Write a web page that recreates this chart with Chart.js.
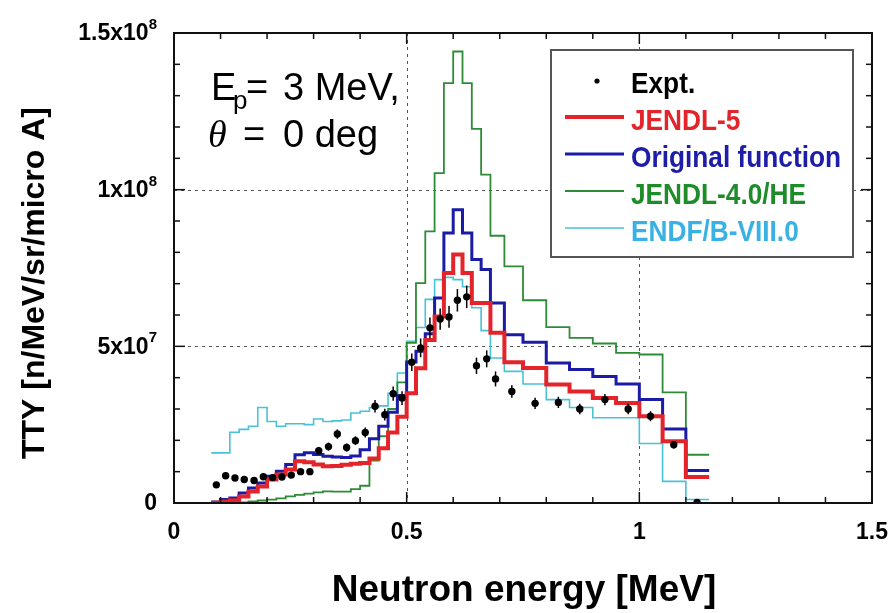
<!DOCTYPE html>
<html>
<head>
<meta charset="utf-8">
<title>TTY, Ep = 3 MeV, 0 deg</title>
<script src="https://cdn.jsdelivr.net/npm/chart.js@4.4.1/dist/chart.umd.min.js"></script>
<style>
  html, body { margin: 0; padding: 0; background: #fff; }
</style>
</head>
<body>
<canvas id="tty" width="888" height="613"></canvas>
<script>
const FONT = '"Liberation Sans", Arial, Helvetica, sans-serif';

// histogram bin edges [MeV], shared by the four calculations
const binEdges = [0.08, 0.10, 0.12, 0.14, 0.16, 0.18, 0.20, 0.22, 0.24, 0.26,
  0.28, 0.30, 0.32, 0.34, 0.36, 0.38, 0.40, 0.42, 0.44, 0.46,
  0.48, 0.50, 0.52, 0.54, 0.56, 0.58, 0.60, 0.62, 0.64, 0.66,
  0.68, 0.71, 0.75, 0.80, 0.85, 0.90, 0.95, 1.00, 1.05, 1.10, 1.15];

// TTY per bin [n/MeV/sr/micro A]
const jendl5 = [1e5, 4e5, 9e5, 2.1e6, 3.7e6, 5.3e6, 7.5e6, 9.1e6, 1.07e7, 1.33e7,
  1.30e7, 1.23e7, 1.17e7, 1.18e7, 1.22e7, 1.25e7, 1.28e7, 1.42e7, 1.75e7, 2.25e7,
  2.75e7, 3.5e7, 4.3e7, 5.2e7, 5.95e7, 7.34e7, 7.93e7, 7.34e7, 6.38e7, 6.38e7,
  5.43e7, 4.49e7, 4.31e7, 3.78e7, 3.56e7, 3.35e7, 3.19e7, 2.77e7, 1.97e7, 8.3e6];
const originalFn = [3e5, 1.1e6, 1.6e6, 3.2e6, 4.8e6, 6.4e6, 8.5e6, 1.01e7, 1.23e7, 1.54e7,
  1.60e7, 1.55e7, 1.49e7, 1.47e7, 1.45e7, 1.50e7, 1.70e7, 2.05e7, 2.45e7, 2.90e7,
  3.43e7, 4.5e7, 4.84e7, 5.4e7, 6.54e7, 8.62e7, 9.36e7, 8.62e7, 7.77e7, 7.45e7,
  6.38e7, 5.37e7, 5.13e7, 4.47e7, 4.26e7, 4.04e7, 3.8e7, 3.3e7, 2.36e7, 1.04e7];
const jendl40he = [0, 0, 0, 2e5, 5e5, 8e5, 1.1e6, 1.5e6, 2.1e6, 2.6e6,
  3.0e6, 3.4e6, 3.7e6, 3.6e6, 3.6e6, 4.4e6, 5.5e6, 1.35e7, 2.13e7, 3.0e7,
  3.85e7, 5.11e7, 7.02e7, 8.67e7, 1.053e8, 1.34e8, 1.441e8, 1.34e8, 1.194e8, 1.048e8,
  8.53e7, 7.55e7, 6.47e7, 5.61e7, 5.27e7, 5.09e7, 4.79e7, 4.74e7, 3.53e7, 1.54e7];
const endf80 = [1.6e7, 1.6e7, 2.26e7, 2.35e7, 2.45e7, 3.05e7, 2.6e7, 2.45e7, 2.53e7, 2.53e7,
  2.5e7, 2.68e7, 2.6e7, 2.62e7, 2.65e7, 2.87e7, 2.93e7, 3.05e7, 3.1e7, 3.5e7,
  4.15e7, 5.16e7, 5.6e7, 6.5e7, 7.13e7, 7.2e7, 7.13e7, 6.9e7, 6.23e7, 5.5e7,
  4.63e7, 4.2e7, 3.8e7, 3.3e7, 3.05e7, 2.72e7, 2.72e7, 1.9e7, 6.9e6, 1.1e6];

// measurement
const exptEnergy = [0.091, 0.111, 0.131, 0.151, 0.172, 0.192, 0.212, 0.232, 0.252, 0.272,
  0.292, 0.311, 0.332, 0.351, 0.371, 0.390, 0.411, 0.432, 0.453, 0.471,
  0.490, 0.511, 0.530, 0.550, 0.572, 0.591, 0.609, 0.629, 0.650, 0.672,
  0.691, 0.726, 0.776, 0.826, 0.872, 0.926, 0.976, 1.024, 1.074, 1.124];
const exptTTY = [5.8e6, 8.7e6, 8.0e6, 7.5e6, 7.2e6, 8.4e6, 8.1e6, 8.3e6, 8.9e6, 1.0e7,
  1.0e7, 1.67e7, 1.8e7, 2.2e7, 1.77e7, 1.99e7, 2.25e7, 3.09e7, 2.82e7, 3.49e7,
  3.35e7, 4.49e7, 4.95e7, 5.59e7, 5.87e7, 5.94e7, 6.47e7, 6.58e7, 4.38e7, 4.6e7,
  3.96e7, 3.56e7, 3.18e7, 3.21e7, 3.0e7, 3.3e7, 3.0e7, 2.77e7, 1.86e7, 2e5];
const exptErr = [6e5, 7e5, 6e5, 6e5, 6e5, 7e5, 7e5, 7e5, 8e5, 8e5,
  8e5, 1.2e6, 1.3e6, 1.5e6, 1.3e6, 1.4e6, 1.6e6, 2.0e6, 1.9e6, 2.3e6,
  2.2e6, 2.8e6, 3.0e6, 3.3e6, 3.4e6, 3.5e6, 3.6e6, 3.6e6, 2.6e6, 2.7e6,
  2.4e6, 2.0e6, 1.8e6, 1.8e6, 1.7e6, 1.8e6, 1.7e6, 1.6e6, 1.2e6, 4e5];

const xTicks = [0, 0.5, 1, 1.5];
const yTicks = [0, 5e7, 1e8, 1.5e8];
const yTickLabels = [['0', ''], ['5x10', '7'], ['1x10', '8'], ['1.5x10', '8']];

// step outline: each value holds from its left edge to the next edge
function histPoints(edges, values) {
  const pts = values.map((v, i) => ({ x: edges[i], y: v }));
  pts.push({ x: edges[edges.length - 1], y: values[values.length - 1] });
  return pts;
}

function line(ctx, x1, y1, x2, y2) {
  ctx.beginPath();
  ctx.moveTo(x1, y1);
  ctx.lineTo(x2, y2);
  ctx.stroke();
}

const decorations = {
  id: 'decorations',
  beforeDatasetsDraw(chart) {
    const { ctx, chartArea: a, scales: { x, y } } = chart;
    ctx.save();
    ctx.strokeStyle = '#555';
    ctx.lineWidth = 1;
    ctx.setLineDash([3, 4]);
    xTicks.slice(1, -1).forEach(v => {
      const px = Math.round(x.getPixelForValue(v)) + 0.5;
      line(ctx, px, a.top, px, a.bottom);
    });
    yTicks.slice(1, -1).forEach(v => {
      const py = Math.round(y.getPixelForValue(v)) + 0.5;
      line(ctx, a.left, py, a.right, py);
    });
    ctx.restore();
  },
  beforeDatasetDraw(chart, args) {
    if (args.index !== 0) return;
    // error bars go under the dots
    const { ctx, chartArea: a, scales: { y } } = chart;
    const meta = chart.getDatasetMeta(0);
    ctx.save();
    ctx.beginPath();
    ctx.rect(a.left, a.top, a.right - a.left, a.bottom - a.top);
    ctx.clip();
    ctx.strokeStyle = '#000';
    ctx.lineWidth = 1.5;
    meta.data.forEach((pt, i) => {
      line(ctx, pt.x, y.getPixelForValue(exptTTY[i] + exptErr[i]),
        pt.x, y.getPixelForValue(exptTTY[i] - exptErr[i]));
    });
    ctx.restore();
  },
  afterDraw(chart) {
    const { ctx, chartArea: a, scales: { x, y } } = chart;
    ctx.save();

    // frame and inward ticks on all four sides
    ctx.strokeStyle = '#111';
    ctx.lineWidth = 2;
    ctx.strokeRect(a.left, a.top, a.right - a.left, a.bottom - a.top);
    ctx.lineWidth = 1.5;
    for (let i = 1; i < 15; i++) {
      const px = x.getPixelForValue(i / 10);
      const len = i % 5 === 0 ? 11 : 6;
      line(ctx, px, a.bottom, px, a.bottom - len);
      line(ctx, px, a.top, px, a.top + len);
    }
    for (let j = 1; j < 15; j++) {
      const py = y.getPixelForValue(j * 1e7);
      const len = j % 5 === 0 ? 11 : 6;
      line(ctx, a.left, py, a.left + len, py);
      line(ctx, a.right, py, a.right - len, py);
    }

    // y tick labels with a raised exponent
    ctx.fillStyle = '#000';
    ctx.textBaseline = 'middle';
    ctx.textAlign = 'right';
    yTicks.forEach((v, i) => {
      const py = y.getPixelForValue(v);
      const [base, exp] = yTickLabels[i];
      ctx.font = `bold 15px ${FONT}`;
      const ew = exp ? ctx.measureText(exp).width : 0;
      if (exp) ctx.fillText(exp, 157, py - 8);
      ctx.font = `bold 23px ${FONT}`;
      ctx.fillText(base, 157 - ew, py + 1);
    });

    // axis titles
    ctx.textBaseline = 'alphabetic';
    ctx.textAlign = 'center';
    ctx.font = `bold 37px ${FONT}`;
    ctx.fillText('Neutron energy [MeV]', 524, 601);
    ctx.save();
    ctx.translate(44, 283);
    ctx.rotate(-Math.PI / 2);
    ctx.font = `bold 32px ${FONT}`;
    ctx.fillText('TTY [n/MeV/sr/micro A]', 0, 0);
    ctx.restore();

    // condition label
    ctx.textAlign = 'left';
    ctx.font = `38px ${FONT}`;
    ctx.fillText('E', 211, 100);
    ctx.font = `26px ${FONT}`;
    ctx.fillText('p', 233, 109);
    ctx.font = `38px ${FONT}`;
    ctx.fillText('=', 246, 100);
    ctx.fillText('3 MeV,', 283, 100);
    ctx.font = `italic 38px "Liberation Serif", "DejaVu Serif", serif`;
    ctx.fillText('\u03b8', 208, 147);
    ctx.font = `38px ${FONT}`;
    ctx.fillText('=', 243, 147);
    ctx.fillText('0 deg', 283, 147);

    // legend box
    const box = { left: 551, top: 50, right: 853, bottom: 257 };
    ctx.fillStyle = '#fff';
    ctx.fillRect(box.left, box.top, box.right - box.left, box.bottom - box.top);
    ctx.strokeStyle = '#555';
    ctx.lineWidth = 2;
    ctx.strokeRect(box.left, box.top, box.right - box.left, box.bottom - box.top);
    const baselines = [93, 130, 167, 204, 241];
    chart.data.datasets.forEach((ds, i) => {
      const base = baselines[i];
      const sy = base - 13;
      if (ds.showLine) {
        ctx.strokeStyle = ds.borderColor;
        ctx.lineWidth = ds.borderWidth;
        line(ctx, 565, sy, 624, sy);
      } else {
        ctx.fillStyle = '#000';
        ctx.beginPath();
        ctx.arc(597, sy + 1, 2.6, 0, Math.PI * 2);
        ctx.fill();
      }
      ctx.save();
      ctx.translate(631, base);
      ctx.scale(0.875, 1);
      ctx.font = `bold 30px ${FONT}`;
      ctx.fillStyle = ds.textColor;
      ctx.fillText(ds.label, 0, 0);
      ctx.restore();
    });

    ctx.restore();
  }
};

new Chart(document.getElementById('tty'), {
  type: 'scatter',
  data: {
    datasets: [
      {
        label: 'Expt.',
        data: exptEnergy.map((e, i) => ({ x: e, y: exptTTY[i] })),
        showLine: false,
        pointRadius: 3.7,
        pointBackgroundColor: '#000',
        pointBorderWidth: 0,
        textColor: '#000'
      },
      {
        label: 'JENDL-5',
        data: histPoints(binEdges, jendl5),
        showLine: true, stepped: true, pointRadius: 0,
        borderColor: '#e3242b', borderWidth: 4,
        textColor: '#e3242b'
      },
      {
        label: 'Original function',
        data: histPoints(binEdges, originalFn),
        showLine: true, stepped: true, pointRadius: 0,
        borderColor: '#1b1ba6', borderWidth: 3,
        textColor: '#1d1da8'
      },
      {
        label: 'JENDL-4.0/HE',
        data: histPoints(binEdges, jendl40he),
        showLine: true, stepped: true, pointRadius: 0,
        borderColor: '#2e8b36', borderWidth: 1.8,
        textColor: '#1f8c2a'
      },
      {
        label: 'ENDF/B-VIII.0',
        data: histPoints(binEdges, endf80),
        showLine: true, stepped: true, pointRadius: 0,
        borderColor: '#48c2d6', borderWidth: 1.6,
        textColor: '#38b2e4'
      }
    ]
  },
  options: {
    responsive: false,
    animation: false,
    layout: { padding: { top: 33, right: 16, left: 0, bottom: 0 } },
    plugins: {
      legend: { display: false },
      tooltip: { enabled: false }
    },
    scales: {
      x: {
        type: 'linear', min: 0, max: 1.5,
        afterBuildTicks: s => { s.ticks = xTicks.map(v => ({ value: v })); },
        afterFit: s => { s.height = 110; s.paddingLeft = 0; s.paddingRight = 0; },
        grid: { display: false },
        border: { display: false },
        ticks: {
          callback: v => String(v),
          font: { family: FONT, size: 23, weight: 'bold' },
          color: '#000',
          padding: 8,
          maxRotation: 0
        }
      },
      y: {
        type: 'linear', min: 0, max: 1.5e8,
        afterBuildTicks: s => { s.ticks = yTicks.map(v => ({ value: v })); },
        afterFit: s => { s.width = 174; },
        grid: { display: false },
        border: { display: false },
        ticks: { display: false }
      }
    }
  },
  plugins: [decorations]
});
</script>
</body>
</html>
